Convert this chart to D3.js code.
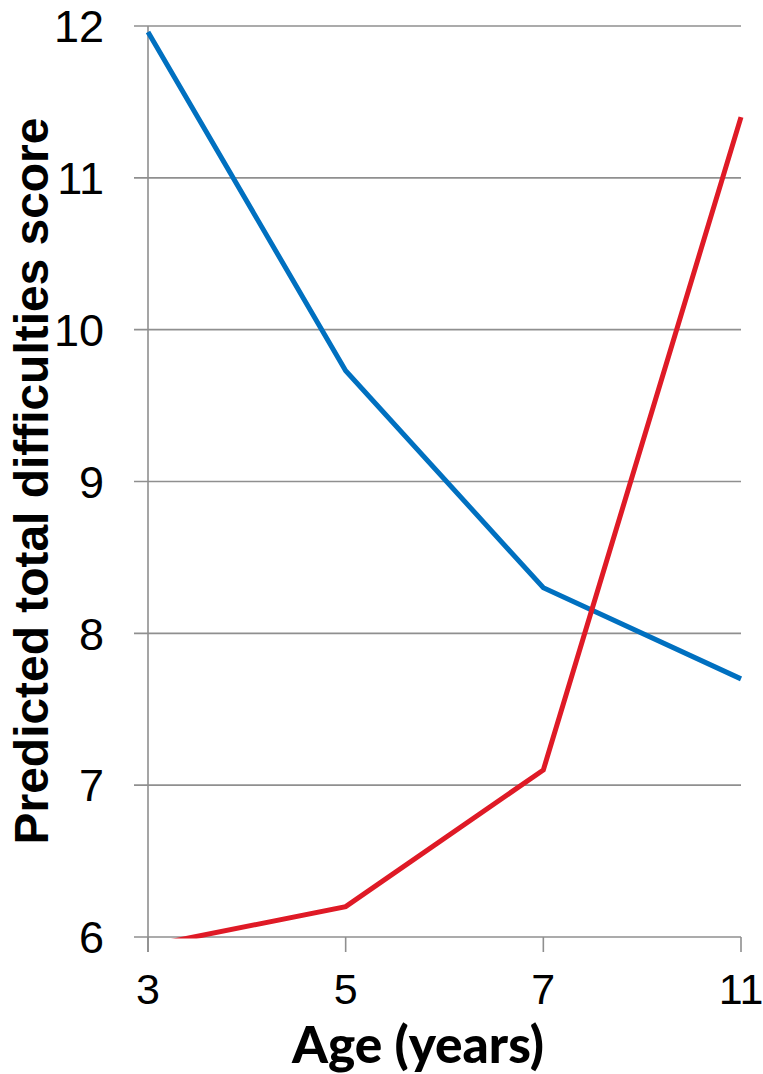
<!DOCTYPE html>
<html><head><meta charset="utf-8">
<script src="https://cdn.jsdelivr.net/npm/d3@7"></script>
<style>body{margin:0;background:#fff}svg{display:block}</style>
</head><body>
<script>
const ages = ["3", "5", "7", "11"];
const blueValues = [11.96, 9.73, 8.30, 7.70];
const redValues = [5.94, 6.20, 7.10, 11.40];
const yTicks = [6, 7, 8, 9, 10, 11, 12];
const xTitle = "Age (years)";
const yTitle = "Predicted total difficulties score";

const W = 763, H = 1074;
const svg = d3.select("body").append("svg").attr("width", W).attr("height", H);
const x = d3.scalePoint().domain(ages).range([148, 741]);
const y = d3.scaleLinear().domain([6, 12]).range([937, 26]);
const grid = "#8f8f8f";

// gridlines
svg.append("g").selectAll("line").data(yTicks).join("line")
  .attr("x1", 134).attr("x2", 741)
  .attr("y1", d => y(d)).attr("y2", d => y(d))
  .attr("stroke", grid).attr("stroke-width", 1.6);
// y axis line
svg.append("line").attr("x1", 148).attr("x2", 148).attr("y1", y(12)).attr("y2", 952)
  .attr("stroke", grid).attr("stroke-width", 1.6);
// x ticks
svg.append("g").selectAll("line").data(ages).join("line")
  .attr("x1", d => x(d)).attr("x2", d => x(d)).attr("y1", y(6)).attr("y2", 952)
  .attr("stroke", grid).attr("stroke-width", 1.6);

// y tick labels
svg.append("g").selectAll("text").data(yTicks).join("text")
  .attr("x", 104).attr("y", d => y(d)).attr("dy", "0.36em")
  .attr("text-anchor", "end")
  .style("font-family", "'Liberation Sans', Arial, sans-serif").style("font-size", "45px")
  .attr("fill", "#000").text(d => d);
// x tick labels
svg.append("g").selectAll("text").data(ages).join("text")
  .attr("x", d => x(d)).attr("y", 1004)
  .attr("text-anchor", "middle")
  .style("font-family", "'Liberation Sans', Arial, sans-serif").style("font-size", "43px")
  .attr("fill", "#000").text(d => d);

// clip
svg.append("clipPath").attr("id", "pc").append("rect")
  .attr("x", 140).attr("y", 0).attr("width", 620).attr("height", 938.5);

const line = d3.line().x((d, i) => x(ages[i])).y(d => y(d));
svg.append("path").datum(blueValues).attr("d", line).attr("fill", "none")
  .attr("stroke", "#0070C0").attr("stroke-width", 5).attr("stroke-linejoin", "miter")
  .attr("clip-path", "url(#pc)");
svg.append("path").datum(redValues).attr("d", line).attr("fill", "none")
  .attr("stroke", "#DF1A26").attr("stroke-width", 5).attr("stroke-linejoin", "miter")
  .attr("clip-path", "url(#pc)");

// titles
const xt = svg.append("text").attr("x", 418).attr("y", 1063).attr("text-anchor", "middle")
  .style("font-family", "Lato, 'Open Sans', sans-serif").style("font-weight", "900").style("font-size", "42px")
  .attr("fill", "#000").text(xTitle);
const xl = xt.node().getComputedTextLength();
if (xl > 0) xt.style("font-size", (42 * 252 / xl) + "px");

const yt = svg.append("text").attr("transform", "translate(48,481) rotate(-90)").attr("text-anchor", "middle")
  .style("font-family", "'Liberation Sans', Arial, sans-serif").style("font-weight", "bold").style("font-size", "40px")
  .attr("fill", "#000").text(yTitle);
const yl = yt.node().getComputedTextLength();
if (yl > 0) yt.style("font-size", (40 * 727 / yl) + "px");
</script>
</body></html>
